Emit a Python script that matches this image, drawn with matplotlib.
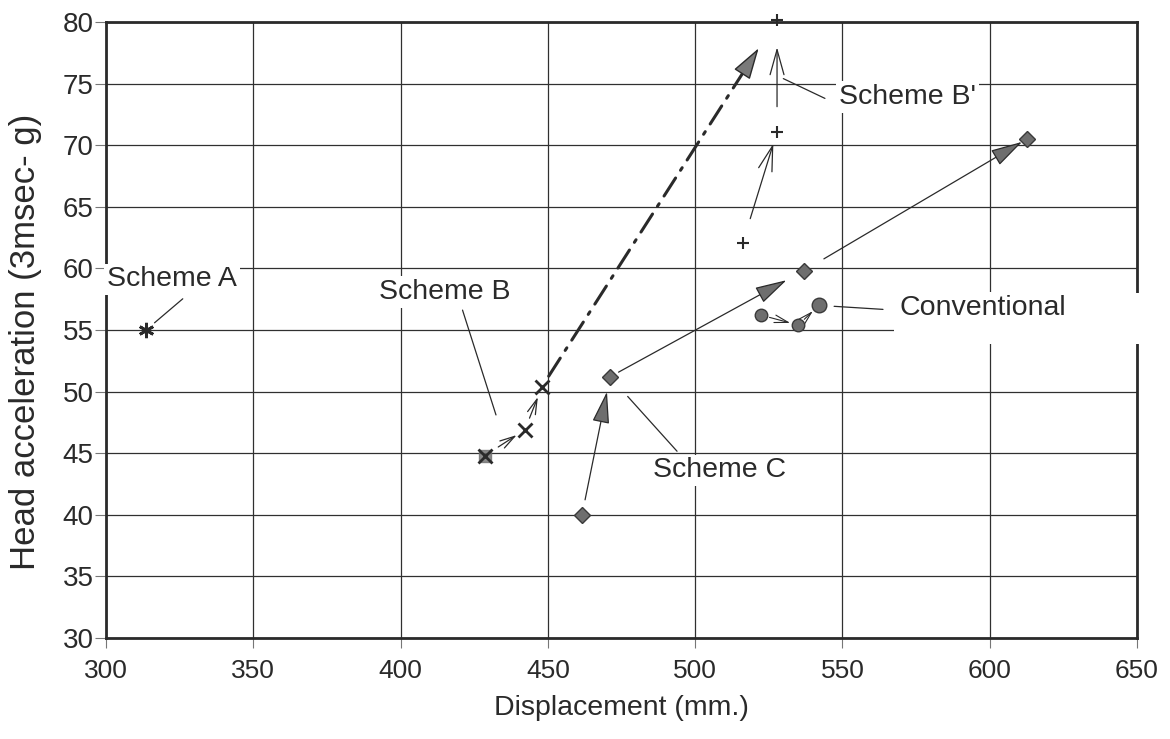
import numpy as np
import matplotlib.pyplot as plt

# 数据
scheme_a_x = [313.6]
scheme_a_y = [55.0]

scheme_b_x = [428.6, 442.2, 448.0]
scheme_b_y = [44.8, 46.9, 50.4]

scheme_b2_x = [516.2, 527.8, 527.8]
scheme_b2_y = [62.1, 71.1, 80.2]

scheme_c_x = [461.6, 471.1, 536.8, 612.6]
scheme_c_y = [40.0, 51.2, 59.8, 70.5]

conv_x = [522.5, 535.0, 542.0]
conv_y = [56.2, 55.4, 57.0]

x_ticks = [300, 350, 400, 450, 500, 550, 600, 650]
y_ticks = [30, 35, 40, 45, 50, 55, 60, 65, 70, 75, 80]

INK = '#2a2a2a'
GRAY = '#6e6e6e'

plt.rcParams['font.family'] = ['Liberation Sans', 'DejaVu Sans']

fig = plt.figure(figsize=(11.7, 7.39), dpi=100)
ax = fig.add_axes([0.0906, 0.1367, 0.8812, 0.8335])

ax.set_xlim(300, 650)
ax.set_ylim(30, 80)
ax.set_xticks(x_ticks)
ax.set_yticks(y_ticks)
ax.grid(True, color='#303030', lw=0.9)
ax.set_axisbelow(True)
for s in ax.spines.values():
    s.set_linewidth(2)
    s.set_color(INK)
ax.tick_params(axis='x', length=7, width=0.8, color='#777', pad=8,
               labelsize=19, labelcolor=INK)
ax.tick_params(axis='y', length=8, width=0.8, color='#777', pad=1,
               labelsize=20, labelcolor=INK)
ax.set_xlabel('Displacement (mm.)', fontsize=20.5, color=INK, labelpad=9)
ax.set_ylabel('Head acceleration (3msec- g)', fontsize=25, color=INK)
ax.yaxis.set_label_coords(-0.062, 0.48)


def arrow(p0, p1, style, sa, sb, scale=20, **kw):
    ax.annotate('', xy=p1, xytext=p0, annotation_clip=False,
                arrowprops=dict(arrowstyle=style, shrinkA=sa, shrinkB=sb,
                                mutation_scale=scale, **kw))


OPEN = '->,head_length=0.9,head_width=0.25'
FILLED = '-|>,head_length=1.0,head_width=0.27'

# 点
ax.plot(scheme_a_x, scheme_a_y, ls='none', marker=(6, 2, 0), ms=11,
        mew=2, color=INK, zorder=5)
ax.plot(scheme_b_x[:1], scheme_b_y[:1], ls='none', marker='s', ms=9,
        color=GRAY, alpha=0.8, zorder=5)
ax.plot(scheme_b_x, scheme_b_y, ls='none', marker='x', ms=10, mew=2,
        color=INK, zorder=6)
ax.plot(scheme_b2_x, scheme_b2_y, ls='none', marker='+', ms=9, mew=1.5,
        color=INK, zorder=6, clip_on=False)
ax.plot(scheme_c_x, scheme_c_y, ls='none', marker='D', ms=8, mfc=GRAY,
        mec='#3a3a3a', mew=1, zorder=6)
ax.plot(conv_x[:2], conv_y[:2], ls='none', marker='o', ms=9, mfc=GRAY,
        mec='#3a3a3a', mew=1, zorder=6)
ax.plot(conv_x[2:], conv_y[2:], ls='none', marker='o', ms=10.5, mfc=GRAY,
        mec='#3a3a3a', mew=1, zorder=6)

# Scheme B 的小箭头
b = list(zip(scheme_b_x, scheme_b_y))
arrow(b[0], b[1], OPEN, 11.5, 7, scale=12, color=INK, lw=0.9)
arrow(b[1], b[2], OPEN, 9, 8, scale=12, color=INK, lw=0.9)

# Scheme B -> B' 点划线大箭头
b2 = list(zip(scheme_b2_x, scheme_b2_y))
arrow(b[2], b2[2], '-', 9, 44, color=INK, lw=2.2, ls=(0, (7, 3, 1, 3)))
t = 0.85
mid = (b[2][0] + t * (b2[2][0] - b[2][0]), b[2][1] + t * (b2[2][1] - b[2][1]))
arrow(mid, b2[2], '-|>,head_length=1.0,head_width=0.3', 0, 24.5,
      fc='#7a7a7a', ec=INK, lw=1)

# Scheme B' 箭头
arrow(b2[0], b2[1], OPEN, 18, 9, color=INK, lw=0.9)
arrow(b2[1], b2[2], OPEN, 18, 20, color=INK, lw=0.9)

# Scheme C 箭头
c = list(zip(scheme_c_x, scheme_c_y))
arrow(c[0], c[1], FILLED, 11, 11, fc=GRAY, ec=INK, lw=0.9)
arrow(c[1], c[2], FILLED, 7, 14, fc=GRAY, ec=INK, lw=0.9)
arrow(c[2], c[3], FILLED, 17, 4, fc=GRAY, ec=INK, lw=0.9)

# Conventional 小箭头
cv = list(zip(conv_x, conv_y))
arrow(cv[0], cv[1], OPEN, 6, 6, scale=11, color=INK, lw=0.8)
arrow(cv[1], cv[2], OPEN, 6, 6, scale=11, color=INK, lw=0.8)

# 标注文字
box = dict(fc='white', ec='none', pad=2)


def label(text, xy, xytext, relpos, sa, sb):
    ax.annotate(text, xy=xy, xytext=xytext, ha='center', va='center',
                fontsize=20.5, color=INK, bbox=box, zorder=4,
                arrowprops=dict(arrowstyle='-', color=INK, lw=0.9,
                                relpos=relpos, patchA=None,
                                shrinkA=sa, shrinkB=sb))


mid_b = ((b[0][0] + b[1][0]) / 2, (b[0][1] + b[1][1]) / 2)
mid_b2 = ((b2[1][0] + b2[2][0]) / 2, (b2[1][1] + b2[2][1]) / 2)
label('Scheme A', (scheme_a_x[0], scheme_a_y[0]), (322.4, 59.1), (0.64, 0), 7, 8)
label('Scheme B', mid_b, (415.1, 58.1), (0.62, 0), 4, 21)
label("Scheme B'", mid_b2, (572.0, 73.9), (0, 0.2), 11, 5)
label('Scheme C', c[1], (508.4, 43.6), (0.22, 1), 6, 19)
label('Conventional', cv[2], (597.7, 56.8), (0, 0.4), 12, 11)

# Conventional 右边的白块遮住网格和右框线
ax.add_patch(plt.Rectangle((567.5, 53.9), 90, 4.1, fc='white', ec='none',
                           zorder=3, clip_on=False))

fig.savefig('out.png', dpi=100)
